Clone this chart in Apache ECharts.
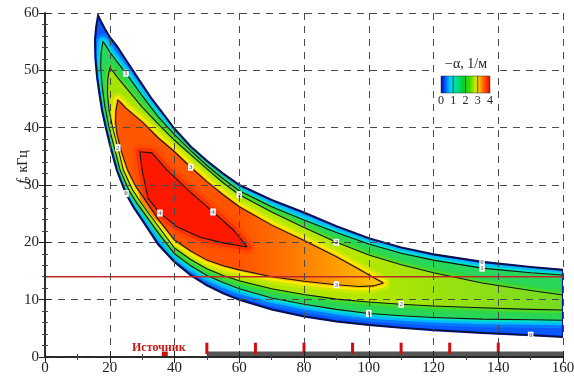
<!DOCTYPE html>
<html><head><meta charset="utf-8">
<script src="https://cdn.jsdelivr.net/npm/echarts@6/dist/echarts.min.js"></script>
<style>html,body{margin:0;padding:0;background:#fff}#c{width:574px;height:383px}</style>
</head><body><div id="c"></div>
<script>
// ---- data (x, mm ; f, kHz) ----
const xTicks = [0,20,40,60,80,100,120,140,160];
const yTicks = [0,10,20,30,40,50,60];
const cbarTicks = ['0','1','2','3','4'];
// level 0 : outer edge of the coloured region
const c0Upper = [[16.4,59.5],[17.2,58.6],[18.5,57.2],[20,55.8],[22.2,54.2],[25,51.8],[29.3,48.1],[33,45.0],[36.4,42.5],[40,39.8],[45,36.7],[50,34.2],[55,32.0],[60,30.0],[70,27.4],[80,25.2],[90,22.8],[100,20.7],[110,19.1],[120,17.9],[135,16.6],[150,15.7],[160,15.2]];
const c0Lower = [[16.4,59.5],[15.8,57.5],[15.45,55.3],[15.6,52],[16.1,48.8],[16.8,46],[17.6,43.1],[18.8,40],[20.3,36.5],[22.2,32.6],[25,28.5],[27.5,26],[30,23.9],[35,19.6],[40,16.6],[45,14.3],[50,12.5],[55,11.1],[60,10.0],[70,8.3],[80,7.1],[90,6.2],[100,5.6],[110,5.1],[120,4.7],[135,4.2],[150,3.8],[160,3.5]];
// level 1
const c1Upper = [[17.9,55],[18.8,54.3],[20,53.2],[22.5,51.3],[25,49.5],[30,45.6],[35,41.9],[40,38.8],[45,36.0],[50,33.4],[55,31.1],[60,29.0],[70,26.2],[80,23.9],[90,21.7],[100,19.7],[110,18.1],[120,16.9],[135,15.5],[150,14.7],[160,14.3]];
const c1Lower = [[17.9,55],[17.3,53],[17.2,50.5],[17.6,47.5],[18.4,44],[19.8,40],[21.4,36.5],[23.2,32.6],[26,29],[28.5,26.7],[31,24.8],[35,21.6],[40,18.0],[45,15.9],[50,14.2],[55,13.0],[60,11.9],[70,10.3],[80,9.2],[90,8.3],[100,7.6],[110,7.2],[120,6.9],[135,6.6],[150,6.5],[160,6.4]];
// level 2
const c2Upper = [[20,50.4],[21,49.8],[22.5,48.7],[25,47],[30,43.6],[35,40.6],[40,37.8],[45,35.3],[50,32.8],[55,30.4],[60,28.3],[70,25.3],[80,22.6],[90,20.0],[100,17.8],[110,16.1],[120,14.7],[135,12.9],[150,11.6],[160,10.8]];
const c2Lower = [[20,50.4],[19.4,48.5],[19.3,46],[19.8,43],[20.9,40],[22.5,36.5],[24.2,32.6],[27,29.2],[30,26.6],[35,22.8],[40,19.0],[45,17.0],[50,15.4],[55,14.2],[60,13.3],[70,11.9],[80,10.9],[90,10.1],[100,9.6],[110,9.2],[120,8.9],[135,8.6],[150,8.3],[160,8.2]];
// level 3 (closed)
const c3Upper = [[22.5,44.8],[23.5,44.3],[25,43.4],[27.5,42.2],[30,41],[35,38.2],[40,35.8],[45,33.1],[50,30.6],[55,28.3],[60,26.2],[70,23.0],[80,20.3],[90,17.5],[97,15.3],[101,14.0],[104.5,12.9]];
const c3Lower = [[22.5,44.8],[21.9,43],[21.8,41],[22.2,39],[23.5,36],[25.5,32.6],[28,29.8],[30,28.2],[35,24.0],[40,20.4],[45,18.5],[50,16.9],[55,15.9],[60,15.2],[70,14.0],[80,13.2],[90,12.6],[97,12.3],[101.5,12.4],[104.5,12.9]];
// level 4 (closed, innermost)
const c4Upper = [[29.3,35.8],[33,35.6],[37.7,32.6],[44.8,28.8],[51.9,25.3],[58.1,22.2],[62.4,19.2]];
const c4Lower = [[29.3,35.8],[30,32.6],[31.8,27.7],[35.5,25.1],[40.8,22.7],[47.9,20.9],[55,19.9],[62.4,19.2]];
const sourceX = [50,65,80,95,110,125,140];
const sourcePoint = 37;
const refLineF = 14;

// ---- chart ----
const chart = echarts.init(document.getElementById('c'));
const serif = 'Liberation Serif, Times New Roman, serif';
function hGrad(stops){ return {type:'linear', x:0, y:0, x2:1, y2:0, colorStops:stops.map(s=>({offset:s[0], color:s[1]}))}; }
// halo: colour just below the level (drawn outside the contour), fill: colour just above it
const levels = [
  {u:c0Upper, l:c0Lower, fill:'#0a58ff', halo:[], text:'0'},
  {u:c1Upper, l:c1Lower, fill:'#28d65a', halo:[['rgba(0,150,255,0.55)',16],['rgba(0,205,255,0.8)',10],['rgba(0,228,190,0.9)',5]], text:'1'},
  {u:c2Upper, l:c2Lower, fill:hGrad([[0,'#a4e400'],[0.55,'#b6e800'],[1,'#74da22']]), halo:[['rgba(50,214,60,0.5)',12],['rgba(80,220,30,0.8)',6]], text:'2'},
  {u:c3Upper, l:c3Lower, fill:hGrad([[0,'#ff5800'],[0.45,'#ff5200'],[0.62,'#ff7000'],[0.82,'#ff9c00'],[1,'#ffc800']]), halo:[['rgba(220,235,0,0.6)',14],['rgba(255,235,0,0.9)',8],['rgba(255,175,0,0.9)',3]], text:'3'},
  {u:c4Upper, l:c4Lower, fill:'#ff1800', halo:[['rgba(255,70,0,0.6)',16],['rgba(255,45,0,0.85)',8]], text:'4'}
];
// which contour vertex carries a level label: [level, 'u'|'l', x of vertex]
const labelAt = [[0,'l',150],[0,'u',135],[0,'l',25],[1,'u',135],[1,'l',100],[2,'u',90],[2,'l',110],[2,'u',60],[3,'l',90],[3,'u',45],[4,'u',51.9],[4,'l',35.5],[1,'u',25],[2,'l',22.5]];

function closed(lv){ return lv.u.concat(lv.l.slice().reverse()); }
const fieldSeries = {
  type:'custom', coordinateSystem:'cartesian2d', silent:true, z:3, clip:true,
  data:[[c0Upper[0][0], c0Upper[0][1]]],
  renderItem:function(p, api){
    const edgePts = closed(levels[0]).map(q=>api.coord(q));
    const children = [];
    levels.forEach(function(lv){
      const pts = closed(lv).map(q=>api.coord(q));
      lv.halo.forEach(function(h){
        children.push({type:'polygon', shape:{points:pts}, style:{fill:null, stroke:h[0], lineWidth:h[1], lineJoin:'round'}});
      });
      children.push({type:'polygon', shape:{points:pts}, style:{fill:lv.fill}});
    });
    return {type:'group', children:[
      {type:'group', clipPath:{type:'polygon', shape:{points:edgePts}}, children:children},
      {type:'polygon', shape:{points:edgePts}, style:{fill:null, stroke:'#0016a8', lineWidth:2.2}}
    ]};
  }
};
const lineSeries = {
  type:'custom', coordinateSystem:'cartesian2d', silent:true, z:8, clip:true,
  data:[[c0Upper[0][0], c0Upper[0][1]]],
  renderItem:function(p, api){
    const ch = levels.map(lv=>({type:'polyline',
      shape:{points: lv.u.slice().reverse().concat(lv.l.slice(1)).map(q=>api.coord(q))},
      style:{stroke:'#141414', lineWidth:1.1, fill:null}}));
    labelAt.forEach(function(a){
      const lv = levels[a[0]], br = a[1]==='u'?lv.u:lv.l;
      const pt = br.find(q=>q[0]===a[2]); if(!pt) return;
      const c = api.coord(pt);
      ch.push({type:'text', x:c[0], y:c[1], style:{text:lv.text, font:'bold 7px '+serif, fill:'#777',
        align:'center', verticalAlign:'middle', backgroundColor:'#fff', padding:[0,1]}});
    });
    return {type:'group', children:ch};
  }
};
const axisCommon = {
  min:0, z:10, axisLine:{lineStyle:{color:'#222', width:1.5}},
  axisTick:{inside:true, length:6, lineStyle:{color:'#222'}}
};
const option = {
  animation:false,
  grid:{left:45, right:11, top:13, bottom:26, outerBoundsMode:'none', containLabel:false},
  xAxis:[
    Object.assign({}, axisCommon, {type:'value', max:160, interval:20,
      axisLabel:{color:'#222', fontFamily:serif, fontSize:15, margin:4},
      minorTick:{show:true, splitNumber:2, length:3, lineStyle:{color:'#444'}},
      splitLine:{show:true, lineStyle:{color:'#4a4a4a', type:[7,6], width:1}},
      name:'{i|x}, мм', nameLocation:'middle', nameGap:15,
      nameTextStyle:{fontFamily:serif, fontSize:13, color:'#222', rich:{i:{fontFamily:serif, fontSize:14, fontStyle:'italic', color:'#222'}}}}),
    Object.assign({}, axisCommon, {type:'value', position:'top', max:160, interval:20,
      axisLabel:{show:false}, minorTick:{show:true, splitNumber:2, length:3, lineStyle:{color:'#444'}}, splitLine:{show:false}})
  ],
  yAxis:[
    Object.assign({}, axisCommon, {type:'value', max:60, interval:10,
      axisLabel:{color:'#222', fontFamily:serif, fontSize:15, margin:6},
      minorTick:{show:true, splitNumber:5, length:3, lineStyle:{color:'#444'}},
      splitLine:{show:true, lineStyle:{color:'#4a4a4a', type:[7,6], width:1}}}),
    Object.assign({}, axisCommon, {type:'value', position:'right', max:60, interval:10,
      axisLabel:{show:false}, minorTick:{show:true, splitNumber:5, length:3, lineStyle:{color:'#444'}}, splitLine:{show:false}})
  ],
  graphic:[
    {type:'text', x:23, y:167, rotation:Math.PI/2, style:{text:'{i|f}, кГц', rich:{i:{font:'italic 15px '+serif, fill:'#222'}}, font:'14px '+serif, fill:'#222', align:'center', verticalAlign:'middle'}, z:10},
    {type:'rect', shape:{x:434, y:54, width:63, height:55}, style:{fill:'#fff'}, z:50},
    {type:'text', x:466, y:64, style:{text:'−α, 1/м', font:'14px '+serif, fill:'#222', align:'center', verticalAlign:'middle'}, z:51},
    {type:'rect', shape:{x:441, y:76, width:49, height:17}, style:{stroke:'#333', lineWidth:0.5, fill:{type:'linear', x:0,y:0,x2:1,y2:0, colorStops:[
      {offset:0,color:'#0000b0'},{offset:0.08,color:'#0050ff'},{offset:0.18,color:'#00c8ff'},{offset:0.3,color:'#00e0a0'},{offset:0.45,color:'#00d030'},{offset:0.58,color:'#40d800'},{offset:0.68,color:'#b0e800'},{offset:0.75,color:'#ffd800'},{offset:0.85,color:'#ff7000'},{offset:0.95,color:'#ff2000'},{offset:1,color:'#e00000'}]}}, z:51}
  ].concat(cbarTicks.map((t,i)=>({type:'text', x:441+i*49/4, y:101, style:{text:t, font:'12px '+serif, fill:'#222', align:'center', verticalAlign:'middle'}, z:51})))
   .concat([1,2,3].map(i=>({type:'line', shape:{x1:441+i*49/4, y1:76, x2:441+i*49/4, y2:93}, style:{stroke:'#222', lineWidth:0.8}, z:52}))),
  series:[
    fieldSeries,
    lineSeries,
    {type:'line', silent:true, z:9, symbol:'none', data:[[0,refLineF],[160,refLineF]], lineStyle:{color:'#c02828', width:1.3}},
    {type:'custom', coordinateSystem:'cartesian2d', silent:true, z:9, data:[[50,0]],
      renderItem:function(p, api){
        const a = api.coord([50,0]), b = api.coord([160,0.95]);
        return {type:'rect', shape:{x:a[0], y:b[1], width:b[0]-a[0], height:a[1]-b[1]}, style:{fill:'#555'}};
      }},
    {type:'custom', coordinateSystem:'cartesian2d', silent:true, z:10, data:sourceX.map(v=>[v,0]),
      renderItem:function(p, api){
        const a = api.coord([api.value(0),0.5]), b = api.coord([api.value(0),2.5]);
        return {type:'rect', shape:{x:a[0]-1.5, y:b[1], width:3, height:a[1]-b[1]}, style:{fill:'#d01010'}};
      }},
    {type:'custom', coordinateSystem:'cartesian2d', silent:true, z:10, data:[[sourcePoint,0]],
      renderItem:function(p, api){
        const a = api.coord([api.value(0),0]), b = api.coord([api.value(0),0.95]);
        return {type:'group', children:[
          {type:'text', x:a[0]-6, y:a[1]-9, style:{text:'Источник', font:'bold 12px '+serif, fill:'#c81818', align:'center', verticalAlign:'middle'}},
          {type:'rect', shape:{x:a[0]-3, y:b[1], width:6, height:a[1]-b[1]}, style:{fill:'#d01010'}}
        ]};
      }}
  ]
};
chart.setOption(option);
</script></body></html>
